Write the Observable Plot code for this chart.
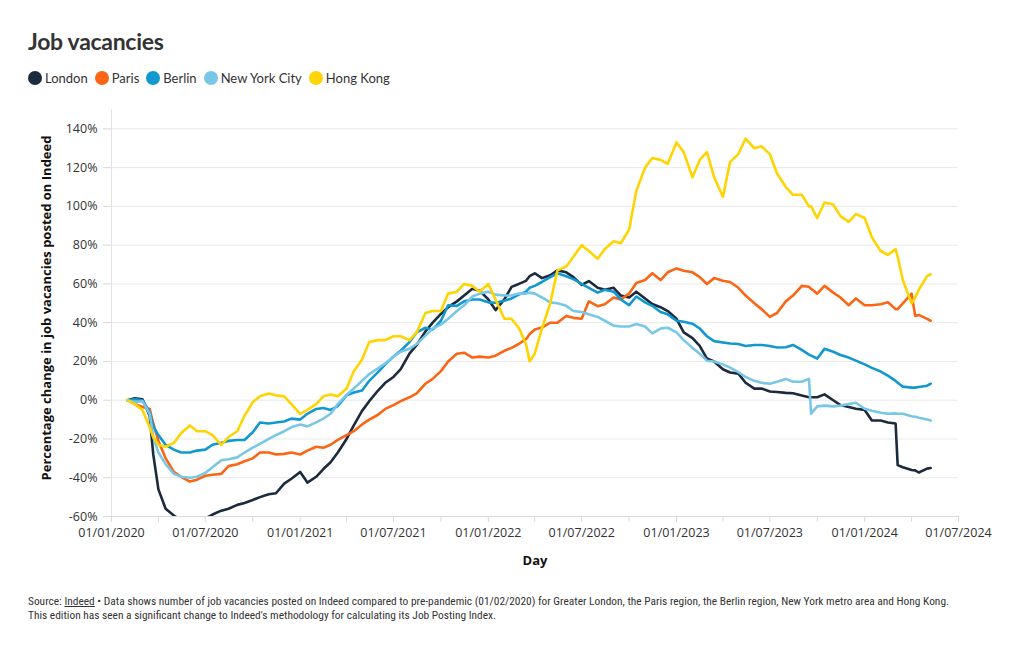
<!DOCTYPE html>
<html><head><meta charset="utf-8">
<script src="https://cdn.jsdelivr.net/npm/d3@7"></script>
<script src="https://cdn.jsdelivr.net/npm/@observablehq/plot@0.6"></script>
<style>
body{margin:0;background:#fff;font-family:Lato,"Open Sans",sans-serif;color:#333;}
#wrap{position:relative;width:1020px;height:650px;overflow:hidden;}
#title{position:absolute;left:28px;top:27px;font-size:23px;font-weight:700;color:#333;letter-spacing:-0.3px}
#legend{position:absolute;left:28px;top:69px;display:flex;font-size:13px;color:#333;line-height:18px}
.item{display:flex;align-items:center;margin-right:7px}
.dot{width:14px;height:14px;border-radius:50%;margin-right:3px}
#chart{position:absolute;left:0;top:100px}
#chart g[aria-label="y-axis tick"], #chart g[aria-label="x-axis tick"]{stroke:#d9d9d9}
#caption{position:absolute;left:28px;top:594px;font-size:11.4px;line-height:14px;color:#333;white-space:nowrap;font-family:"Liberation Sans Narrow","Roboto Condensed",Lato,sans-serif}
#caption u{text-decoration:underline}
</style></head>
<body><div id="wrap">
<div id="title">Job vacancies</div>
<div id="legend"></div>
<div id="chart"></div>
<div id="caption">Source: <u>Indeed</u> • Data shows number of job vacancies posted on Indeed compared to pre-pandemic (01/02/2020) for Greater London, the Paris region, the Berlin region, New York metro area and Hong Kong.<br>This edition has seen a significant change to Indeed's methodology for calculating its Job Posting Index.</div>
</div>
<script>
const cities = ["London","Paris","Berlin","New York City","Hong Kong"];
const colors = ["#1c2a3d","#fb6514","#1199cf","#79c7e7","#ffd400"];

const dates = [
"2020-02-01","2020-02-15","2020-03-01","2020-03-15","2020-03-22","2020-04-01","2020-04-15","2020-05-01","2020-05-15","2020-06-01","2020-06-15","2020-07-01","2020-07-15","2020-08-01","2020-08-15","2020-09-01","2020-09-15","2020-10-01","2020-10-15","2020-11-01","2020-11-15","2020-12-01","2020-12-15",
"2021-01-01","2021-01-15","2021-02-01","2021-02-15","2021-03-01","2021-03-15","2021-04-01","2021-04-15","2021-05-01","2021-05-15","2021-06-01","2021-06-15","2021-07-01","2021-07-15","2021-08-01","2021-08-15","2021-09-01","2021-09-15","2021-10-01","2021-10-15","2021-11-01","2021-11-15","2021-12-01","2021-12-15",
"2022-01-01","2022-01-15","2022-02-01","2022-02-15","2022-03-01","2022-03-15","2022-03-22","2022-04-01","2022-04-15","2022-05-01","2022-05-15","2022-06-01","2022-06-15","2022-07-01","2022-07-15","2022-08-01","2022-08-15","2022-09-01","2022-09-15","2022-10-01","2022-10-15","2022-11-01","2022-11-15","2022-12-01","2022-12-15",
"2023-01-01","2023-01-15","2023-02-01","2023-02-15","2023-03-01","2023-03-15","2023-04-01","2023-04-15","2023-05-01","2023-05-15","2023-06-01","2023-06-15","2023-07-01","2023-07-15","2023-08-01","2023-08-15","2023-09-01","2023-09-15","2023-09-19","2023-10-01","2023-10-15","2023-11-01","2023-11-15","2023-12-01","2023-12-15",
"2024-01-01","2024-01-15","2024-02-01","2024-02-15","2024-03-01","2024-03-05","2024-03-15","2024-04-01","2024-04-08","2024-04-15","2024-05-01","2024-05-08"];

const london = [
0,1,0.5,-8,-28,-46,-56,-59.5,-62,-63,-63,-61,-59,-57,-56,-54,-53,-51.5,-50,-48.5,-48,-43,-40.5,
-37,-42.5,-39.5,-35.5,-32,-27,-20,-13,-5.5,-0.5,5,9,12,16,24,28.5,35.5,40,44.5,48,51,54,57.5,56.5,
52,46.5,52,58.5,60,61.6,64,65.5,63,64.5,67,66,63.5,59.5,61.5,58,57,58,54,53,56,52.5,49.6,48,46,
42,35,32,28,21.5,20,16,14.3,13.7,9,6,6,4.5,4.2,3.8,3.6,2.4,1.5,1.5,1.5,3,0,-2.5,-3.5,-4.4,
-5,-10.5,-10.5,-11.5,-12,-33.5,-34.6,-36,-36.2,-37.3,-35.3,-35];

const paris = [
0,-2,-3.5,-4.5,-12,-21,-30,-37,-39.5,-42,-41,-39,-38.5,-38,-34,-33,-31.5,-30,-27,-27,-28,-27.7,-27,
-28,-26,-24,-24.5,-23,-20.5,-18,-16,-12.5,-10,-7.5,-4.5,-2.5,-0.5,1.5,3.5,8.5,11,15,20,24,24.5,22,22.5,
22,23,25.5,27,29,31.5,34,36.5,37.5,40,40,43.5,42.5,42,51,48.5,49.5,53,52,55,60.5,62,65.5,62,66,
68,66.8,66,63.5,60,63,61.6,61,58,54,50,47,43,45,51,54,59,58.5,57.5,55,59,55.5,53,49,52.5,
49,49,49.5,50.5,47,47,50,55,43.5,44,42,41];

const berlin = [
0,0.5,0,-6,-13.5,-18,-23,-25.5,-27,-27,-26,-25.5,-23,-22,-21,-20.5,-20.5,-16.5,-11.5,-12,-11.5,-11,-9.5,
-10,-7,-4.5,-4,-5,-3,2.5,4,5,10,14.5,18.5,22.5,25.5,30,35,37.4,36.4,41,49,48.7,51,52,52,
50.5,50.3,51.3,52.5,54.5,56,58,59,61,63.5,65.5,64,62.5,60,58,55.5,57,56,52,49,53.5,50.5,48.7,45.5,44.3,
41,40.5,39.5,37,33,30.5,29.8,29.3,29,28,28.5,28.5,28,27.2,27.3,28.5,26,23.5,23,21.5,26.5,25,23.3,22,20.4,
18.5,16.7,14.8,12.7,10,9,7,6.5,6.5,6.8,7.5,8.5];

const newYork = [
0,-1,-0.5,-7,-19,-27,-33,-38,-39.5,-40,-39.5,-37.5,-34.6,-31,-30.5,-29.5,-27,-24.5,-22.5,-20,-18,-16,-14,
-12.5,-13.5,-11.4,-9.5,-7,-2,2.8,6,10,13.5,16.5,19,22.5,25,26.5,29,33.3,37,39,42,46,49,53.5,55,
56,54.5,54,54,55,55,55.5,55,53,50.5,50,48.7,46,45.5,44.3,43,41,38.5,38,38,39.3,38,34.5,37,37.4,
35,31,27,24,20.4,20,18.5,16.8,14.5,12,10,9,8.5,9.5,11,9.5,9.5,11,-7,-3.2,-2.8,-3.2,-2.8,-2,-1.3,
-4.4,-5.4,-6.5,-7,-6.8,-7,-7,-8.3,-8.5,-9,-10,-10.5];

const hongKong = [
0,-2,-5,-14,-19,-23,-24,-22,-17,-13,-16,-16,-18,-23,-19,-16,-8,-1,2,3.5,2.5,2,-2,
-7,-5,-2,2,3,2,6,15,21,30,31,31,33,33,31,35,45,46,46,55,56,60,59,56,
60,52,42,42,37.4,29,20,24,37,50,67,69,74,80,77,73,78,82,81,88,108,120,125,124,122,
133,128,115,124,128,115,105,123,127,135,130,131,127,117,110,106,106,100,100,94,102,101,95,92,96,
94,84,77,75,78,74,62,50,53,57,64,65];

const yTicks = [-60,-40,-20,0,20,40,60,80,100,120,140];
const xTicks = ["2020-01-01","2020-04-01","2020-07-01","2020-10-01","2021-01-01","2021-04-01","2021-07-01","2021-10-01","2022-01-01","2022-04-01","2022-07-01","2022-10-01","2023-01-01","2023-04-01","2023-07-01","2023-10-01","2024-01-01","2024-04-01","2024-07-01"];
const xLabelTicks = ["2020-01-01","2020-07-01","2021-01-01","2021-07-01","2022-01-01","2022-07-01","2023-01-01","2023-07-01","2024-01-01","2024-07-01"];
const yLabel = "Percentage change in job vacancies posted on Indeed";
const xLabel = "Day";

const series = [london, paris, berlin, newYork, hongKong];
const rows = [];
series.forEach((vals, i) => vals.forEach((v, j) => rows.push({city: cities[i], date: new Date(dates[j]), value: v})));

// legend
const leg = document.getElementById("legend");
cities.forEach((c, i) => {
  const it = document.createElement("div"); it.className = "item";
  it.innerHTML = `<span class="dot" style="background:${colors[i]}"></span><span>${c}</span>`;
  leg.appendChild(it);
});

const fmt = d3.utcFormat("%d/%m/%Y");
const x0 = new Date("2020-01-01"), x1 = new Date("2024-07-01");
const chart = Plot.plot({
  width: 1020, height: 480,
  marginLeft: 111, marginRight: 62, marginTop: 9, marginBottom: 64,
  x: {type: "utc", domain: [x0, x1]},
  y: {domain: [-60, 150]},
  color: {domain: cities, range: colors},
  style: {fontFamily: "'Open Sans', Lato, sans-serif", fontSize: "12.5px", color: "#333", background: "#fff"},
  marks: [
    Plot.gridY(yTicks, {stroke: "#e8e8e8", strokeOpacity: 1}),
    Plot.ruleX([x0], {stroke: "#e3e3e3"}),
    Plot.ruleY([-60], {stroke: "#d9d9d9"}),
    Plot.axisY(yTicks, {tickSize: 8, tickPadding: 6, tickFormat: d => d + "%", label: null}),
    Plot.axisX(xTicks.map(d => new Date(d)), {tickSize: 6, tickPadding: 6, label: null,
      tickFormat: d => xLabelTicks.includes(d.toISOString().slice(0,10)) ? fmt(d) : ""}),
    Plot.line(rows, {x: "date", y: "value", z: "city", stroke: "city", strokeWidth: 2.6, clip: true, strokeLinejoin: "round"}),
    Plot.text([yLabel], {frameAnchor: "left", textAnchor: "middle", dx: -65, dy: -5, rotate: -90, text: d => d, fontWeight: "bold", fontSize: 13, fill: "#111"}),
    Plot.text([xLabel], {frameAnchor: "bottom", dy: 48, text: d => d, fontWeight: "bold", fontSize: 13, fill: "#111"})
  ]
});
document.getElementById("chart").appendChild(chart);
</script>
</body></html>
